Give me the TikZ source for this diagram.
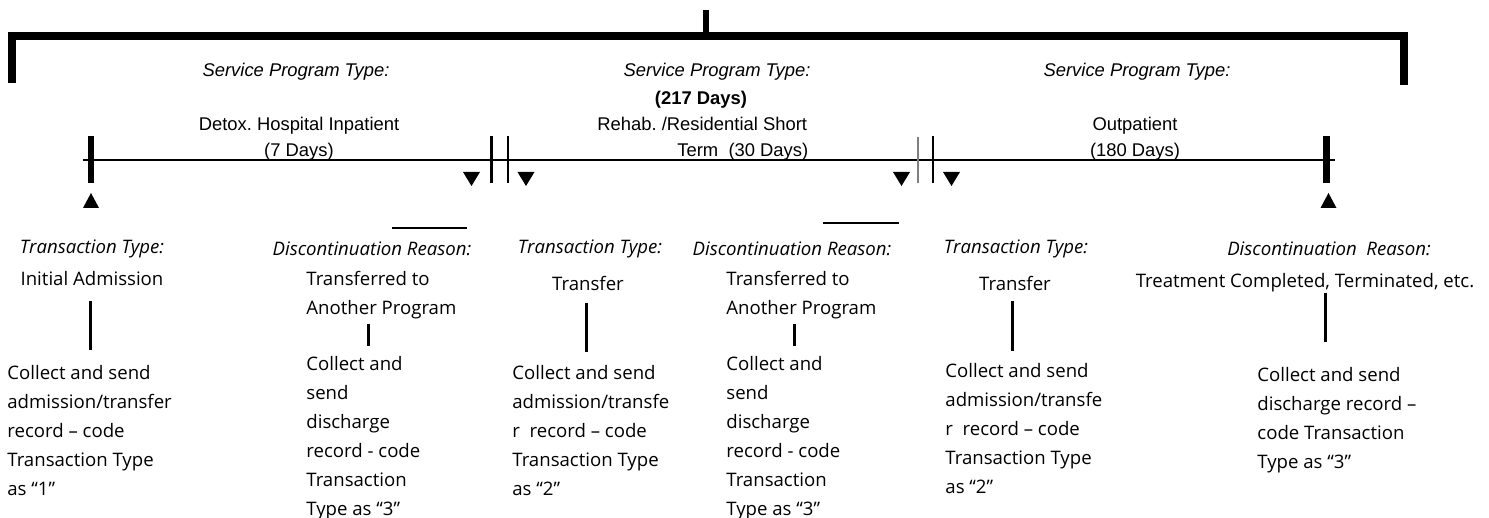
\documentclass[tikz,border=0pt]{standalone}
\usepackage{fontspec}
\setmainfont{Open Sans}
\newfontfamily\headfont{Liberation Sans}

\begin{document}
\begin{tikzpicture}[x=0.5pt, y=-0.5pt,
	head/.style={font=\headfont\fontsize{9.2}{13}\selectfont, inner sep=0pt, align=center},
	headtitle/.style={head, font=\headfont\itshape\fontsize{9.2}{13}\selectfont},
	headbold/.style={head, font=\headfont\bfseries\fontsize{9.2}{13}\selectfont},
	lab/.style={font=\fontsize{9.3}{14.5}\selectfont, inner sep=0pt},
	labtitle/.style={lab, font=\itshape\fontsize{9.3}{14.5}\selectfont},
	block/.style={lab, align=left, anchor=north west},
	bar/.style={line width=4pt},
	tick/.style={line width=3.4pt},
	thintick/.style={line width=1.4pt},
	link/.style={line width=1.5pt}]

	\useasboundingbox (0,0) rectangle (1489,518);

	\coordinate (start) at (83,160);
	\coordinate (finish) at (1335,160);

	% Program bracket
	\draw[bar] (11.5,83) -- (11.5,36) -- (1403.5,36) -- (1403.5,85);
	\draw[tick] (706,36) -- (706,10);

	% Timeline
	\draw[line width=1.2pt] (start) -- (finish);
	\draw[tick] (91,136) -- (91,183);
	\draw[tick] (1326.5,136) -- (1326.5,183);
	\foreach \x in {491.5,508,933}
		\draw[thintick] (\x,136) -- (\x,183);
	\draw[gray, line width=0.6pt] (918,137) -- (918,183);

	% Markers
	\foreach \x in {471.5,526,901.5,951.5}
		\fill (\x-8.5,172) -- (\x+8.5,172) -- (\x,186) -- cycle;
	\foreach \x in {91,1328.5}
		\fill (\x-8,208) -- (\x+8,208) -- (\x,193) -- cycle;
	\draw[line width=1pt] (392,228) -- (467,228);
	\draw[line width=1pt] (823,223) -- (899,223);

	% Program headings
	\node[headtitle] (type1) at (296,72) {Service Program Type:};
	\node[headtitle] (type2) at (717,72) {Service Program Type:};
	\node[headtitle] (type3) at (1137,72) {Service Program Type:};
	\node[headbold] (total) at (701,100) {(217 Days)};
	\node[head] (prog1) at (299,139) {Detox.\ Hospital Inpatient\\(7 Days)};
	\node[head, align=left, anchor=west] (prog2) at (597,139)
		{Rehab.\ /Residential Short\\\hspace*{40pt}Term\ \ (30 Days)};
	\node[head] (prog3) at (1135,139) {Outpatient\\(180 Days)};

	% Transactions
	\node[labtitle] (kind1) at (92,249) {Transaction Type:};
	\node[lab] (entry1) at (92,279) {Initial Admission};
	\node[block] (record1) at (7,364.5)
		{Collect and send\\admission/transfer\\record – code\\Transaction Type\\as “1”};

	\node[labtitle] (reason1) at (372,249) {Discontinuation Reason:};
	\node[block] (exit1) at (306,270.5) {Transferred to\\Another Program};
	\node[block] (record2) at (306,355.5)
		{Collect and\\send\\discharge\\record - code\\Transaction\\Type as “3”};

	\node[labtitle] (kind2) at (590,249) {Transaction Type:};
	\node[lab] (entry2) at (588,283) {Transfer};
	\node[block] (record3) at (512,364.5)
		{Collect and send\\admission/transfe\\r\ \ record – code\\Transaction Type\\as “2”};

	\node[labtitle] (reason2) at (792,249) {Discontinuation Reason:};
	\node[block] (exit2) at (726,270.5) {Transferred to\\Another Program};
	\node[block] (record4) at (726,355.5)
		{Collect and\\send\\discharge\\record - code\\Transaction\\Type as “3”};

	\node[labtitle] (kind3) at (1016,249) {Transaction Type:};
	\node[lab] (entry3) at (1015,283) {Transfer};
	\node[block] (record5) at (945,362.5)
		{Collect and send\\admission/transfe\\r\ \ record – code\\Transaction Type\\as “2”};

	\node[labtitle] (reason3) at (1329,249) {Discontinuation\ \ Reason:};
	\node[lab] (exit3) at (1305,283) {Treatment Completed, Terminated, etc.};
	\node[block] (record6) at (1257,366.5)
		{Collect and send\\discharge record –\\code Transaction\\Type as “3”};

	% Links
	\draw[link, shorten <=7pt, shorten >=7.25pt]
		([xshift=-1pt]entry1.south) -- ([xshift=-1pt]entry1.south |- record1.north);
	\draw[link, shorten <=2.5pt, shorten >=4.75pt]
		([xshift=31pt]exit1.south west) -- ([xshift=31pt]exit1.south west |- record2.north);
	\draw[link, shorten <=6pt, shorten >=6.25pt]
		([xshift=-1pt]entry2.south) -- ([xshift=-1pt]entry2.south |- record3.north);
	\draw[link, shorten <=2.5pt, shorten >=4.75pt]
		([xshift=34pt]exit2.south west) -- ([xshift=34pt]exit2.south west |- record4.north);
	\draw[link, shorten <=5pt, shorten >=5.75pt]
		([xshift=-1.5pt]entry3.south) -- ([xshift=-1.5pt]entry3.south |- record5.north);
	\draw[link, shorten >=12.25pt]
		([xshift=10pt]exit3.south) -- ([xshift=10pt]exit3.south |- record6.north);

\end{tikzpicture}
\end{document}
